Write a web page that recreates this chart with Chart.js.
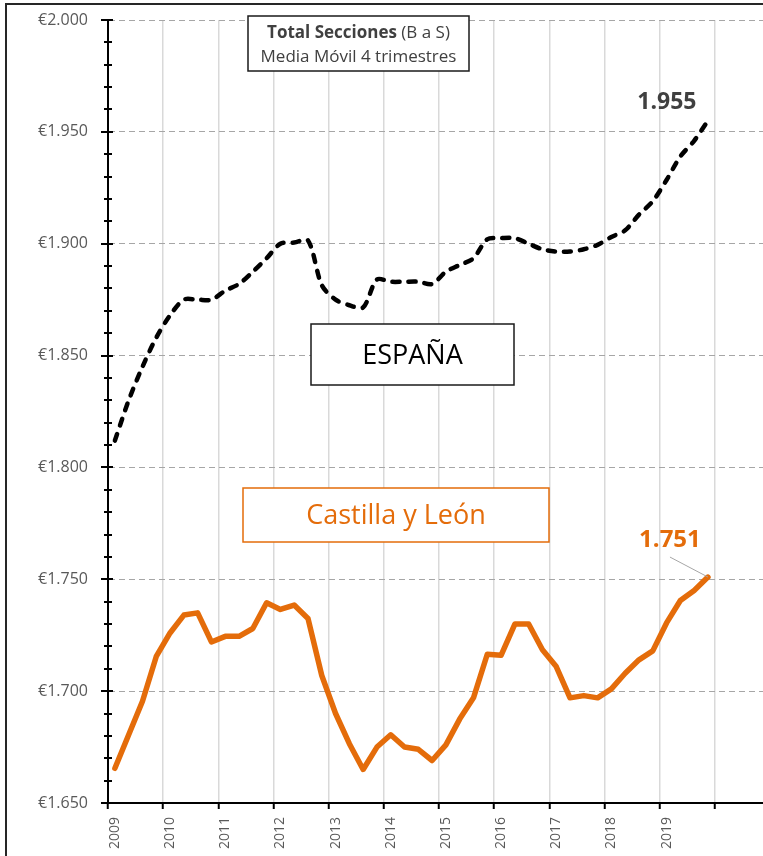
<!DOCTYPE html>
<html>
<head>
<meta charset="utf-8">
<script src="https://cdn.jsdelivr.net/npm/chart.js"></script>
<style>
  html, body { margin: 0; padding: 0; background: #fff; overflow: hidden; }
  #frame { position: absolute; left: 5px; top: 3px; width: 900px; height: 900px; border: 2px solid #262626; }
  #wrap { position: absolute; left: 0; top: 0; width: 790px; height: 856px; }
</style>
</head>
<body>
<div id="frame"></div>
<div id="wrap"><canvas id="myChart"></canvas></div>

<script>
var years = ['2009', '2010', '2011', '2012', '2013', '2014', '2015', '2016', '2017', '2018', '2019'];
var quarterNames = ['T1', 'T2', 'T3', 'T4'];
var yTicks = [1650, 1700, 1750, 1800, 1850, 1900, 1950, 2000];

// media movil 4 trimestres, 2009 T1 .. 2019 T4
var espana = [1812, 1830, 1845, 1858, 1868, 1875, 1875, 1875, 1879, 1882, 1887.5, 1893.5,
  1900, 1900.5, 1901.5, 1881.5, 1875, 1872.5, 1871.5, 1884, 1883, 1883, 1883, 1882,
  1887.5, 1890.5, 1893.5, 1902, 1902.5, 1902.5, 1900, 1897.5, 1896.5, 1896.5, 1897.5, 1899.5,
  1903, 1906, 1913, 1919, 1928.5, 1939, 1946, 1955];
var castilla = [1665.5, 1680.5, 1695.5, 1715.5, 1726, 1734, 1735, 1722, 1724.5, 1724.5, 1728, 1739.5,
  1736.5, 1738.5, 1732.5, 1707, 1690, 1676.5, 1665, 1675, 1680.5, 1675, 1674, 1669,
  1676, 1687.5, 1697, 1716.5, 1716, 1730, 1730, 1718.5, 1711, 1697, 1698, 1697,
  1701, 1708, 1714, 1718, 1730.5, 1740.5, 1745, 1751];

var labels = [];
years.forEach(function(y) {
  quarterNames.forEach(function(q) { labels.push(y + ' ' + q); });
});
// empty room at the right end of the axis
labels.push('', '', '', '');

var FONT = "'Open Sans', sans-serif";
var ORANGE = '#E46C0A';

function euro(v) {
  var s = String(Math.round(v));
  return s.slice(0, s.length - 3) + '.' + s.slice(-3);
}

var annotations = {
  id: 'annotations',
  afterDraw: function(chart) {
    var ctx = chart.ctx;
    var ys = chart.scales.y, xs = chart.scales.x;
    ctx.save();

    // y axis tick marks across the axis line
    ctx.strokeStyle = '#000';
    ctx.lineWidth = 2;
    ys.ticks.forEach(function(t) {
      var py = Math.round(ys.getPixelForValue(t.value));
      var major = t.value % 50 === 0;
      ctx.beginPath();
      ctx.moveTo(ys.right - (major ? 7 : 4), py);
      ctx.lineTo(ys.right + (major ? 5 : 4), py);
      ctx.stroke();
    });

    function box(x, y, w, h, color) {
      ctx.fillStyle = '#fff';
      ctx.fillRect(x, y, w, h);
      ctx.lineWidth = 1.5;
      ctx.strokeStyle = color;
      ctx.strokeRect(x, y, w, h);
    }
    ctx.textBaseline = 'middle';

    // title box
    box(248, 16, 221, 55, '#1a1a1a');
    var t1 = 'Total Secciones', t2 = ' (B a S)';
    ctx.font = 'bold 17px ' + FONT;
    var w1 = ctx.measureText(t1).width;
    ctx.font = '17px ' + FONT;
    var w2 = ctx.measureText(t2).width;
    var sx = 358.5 - (w1 + w2) / 2;
    ctx.fillStyle = '#404040';
    ctx.textAlign = 'left';
    ctx.font = 'bold 17px ' + FONT;
    ctx.fillText(t1, sx, 33);
    ctx.font = '17px ' + FONT;
    ctx.fillText(t2, sx + w1, 33);
    ctx.textAlign = 'center';
    ctx.fillText('Media Móvil 4 trimestres', 358.5, 57);

    // series boxes
    box(311, 324, 203, 61, '#1a1a1a');
    ctx.font = '27px ' + FONT;
    ctx.fillStyle = '#000';
    ctx.fillText('ESPAÑA', 412.5, 356);

    box(243, 488, 306, 54, ORANGE);
    ctx.fillStyle = ORANGE;
    ctx.fillText('Castilla y León', 396, 516);

    // end value labels
    var n = espana.length - 1;
    var ex = xs.getPixelForValue(n), ey = ys.getPixelForValue(espana[n]);
    ctx.font = 'bold 23px ' + FONT;
    ctx.fillStyle = '#404040';
    ctx.fillText(euro(espana[n]), ex - 41, ey - 18);

    var cx = xs.getPixelForValue(n), cy = ys.getPixelForValue(castilla[n]);
    ctx.strokeStyle = '#A6A6A6';
    ctx.lineWidth = 1;
    ctx.beginPath();
    ctx.moveTo(cx - 38, cy - 20);
    ctx.lineTo(cx, cy);
    ctx.stroke();
    ctx.font = 'bold 24px ' + FONT;
    ctx.fillStyle = ORANGE;
    ctx.fillText(euro(castilla[n]), cx - 38, cy - 37);

    ctx.restore();
  }
};

var ctx = document.getElementById('myChart').getContext('2d');
var myChart = new Chart(ctx, {
  type: 'line',
  data: {
    labels: labels,
    datasets: [{
      label: 'España',
      data: espana,
      borderColor: '#000',
      borderWidth: 4.5,
      borderDash: [7, 9],
      borderCapStyle: 'round',
      borderJoinStyle: 'round',
      tension: 0.3,
      pointRadius: 0,
      fill: false
    }, {
      label: 'Castilla y León',
      data: castilla,
      borderColor: ORANGE,
      borderWidth: 5.5,
      borderCapStyle: 'round',
      borderJoinStyle: 'round',
      tension: 0,
      pointRadius: 0,
      fill: false
    }]
  },
  options: {
    responsive: true,
    maintainAspectRatio: false,
    animation: false,
    layout: { padding: { left: 8, top: 20, right: 20, bottom: 0 } },
    plugins: {
      legend: { display: false },
      tooltip: { enabled: false }
    },
    scales: {
      x: {
        offset: true,
        afterFit: function(s) { s.height = 53; },
        grid: {
          offset: true,
          color: function(c) { return c.index % 4 === 0 ? '#D9D9D9' : 'rgba(0,0,0,0)'; },
          lineWidth: 1.5,
          tickColor: function(c) { return c.index % 4 === 0 ? '#000' : 'rgba(0,0,0,0)'; },
          tickWidth: 2,
          tickLength: 6
        },
        border: { color: '#000', width: 2 },
        ticks: {
          autoSkip: false,
          minRotation: 90,
          maxRotation: 90,
          padding: 8,
          color: '#595959',
          font: { family: FONT, size: 14 },
          callback: function(v, i) {
            return i % 4 === 0 ? this.getLabelForValue(v).slice(0, 4) : '';
          }
        }
      },
      y: {
        min: yTicks[0],
        max: yTicks[yTicks.length - 1],
        afterFit: function(s) {
          s.width = 100;
          s.paddingTop = 0;
          s.paddingBottom = 0;
        },
        grid: {
          color: function(c) {
            var v = c.tick ? c.tick.value : 0;
            return (v % 50 === 0 && v > yTicks[0]) ? '#A6A6A6' : 'rgba(0,0,0,0)';
          },
          lineWidth: 1,
          drawTicks: false
        },
        border: { color: '#000', width: 2, dash: [6, 4] },
        ticks: {
          stepSize: 10,
          maxTicksLimit: 100,
          autoSkip: false,
          padding: 20,
          color: '#595959',
          font: { family: FONT, size: 16 },
          callback: function(v) {
            return yTicks.indexOf(v) >= 0 ? '€' + euro(v) : '';
          }
        }
      }
    }
  },
  plugins: [annotations]
});
</script>
</body>
</html>
